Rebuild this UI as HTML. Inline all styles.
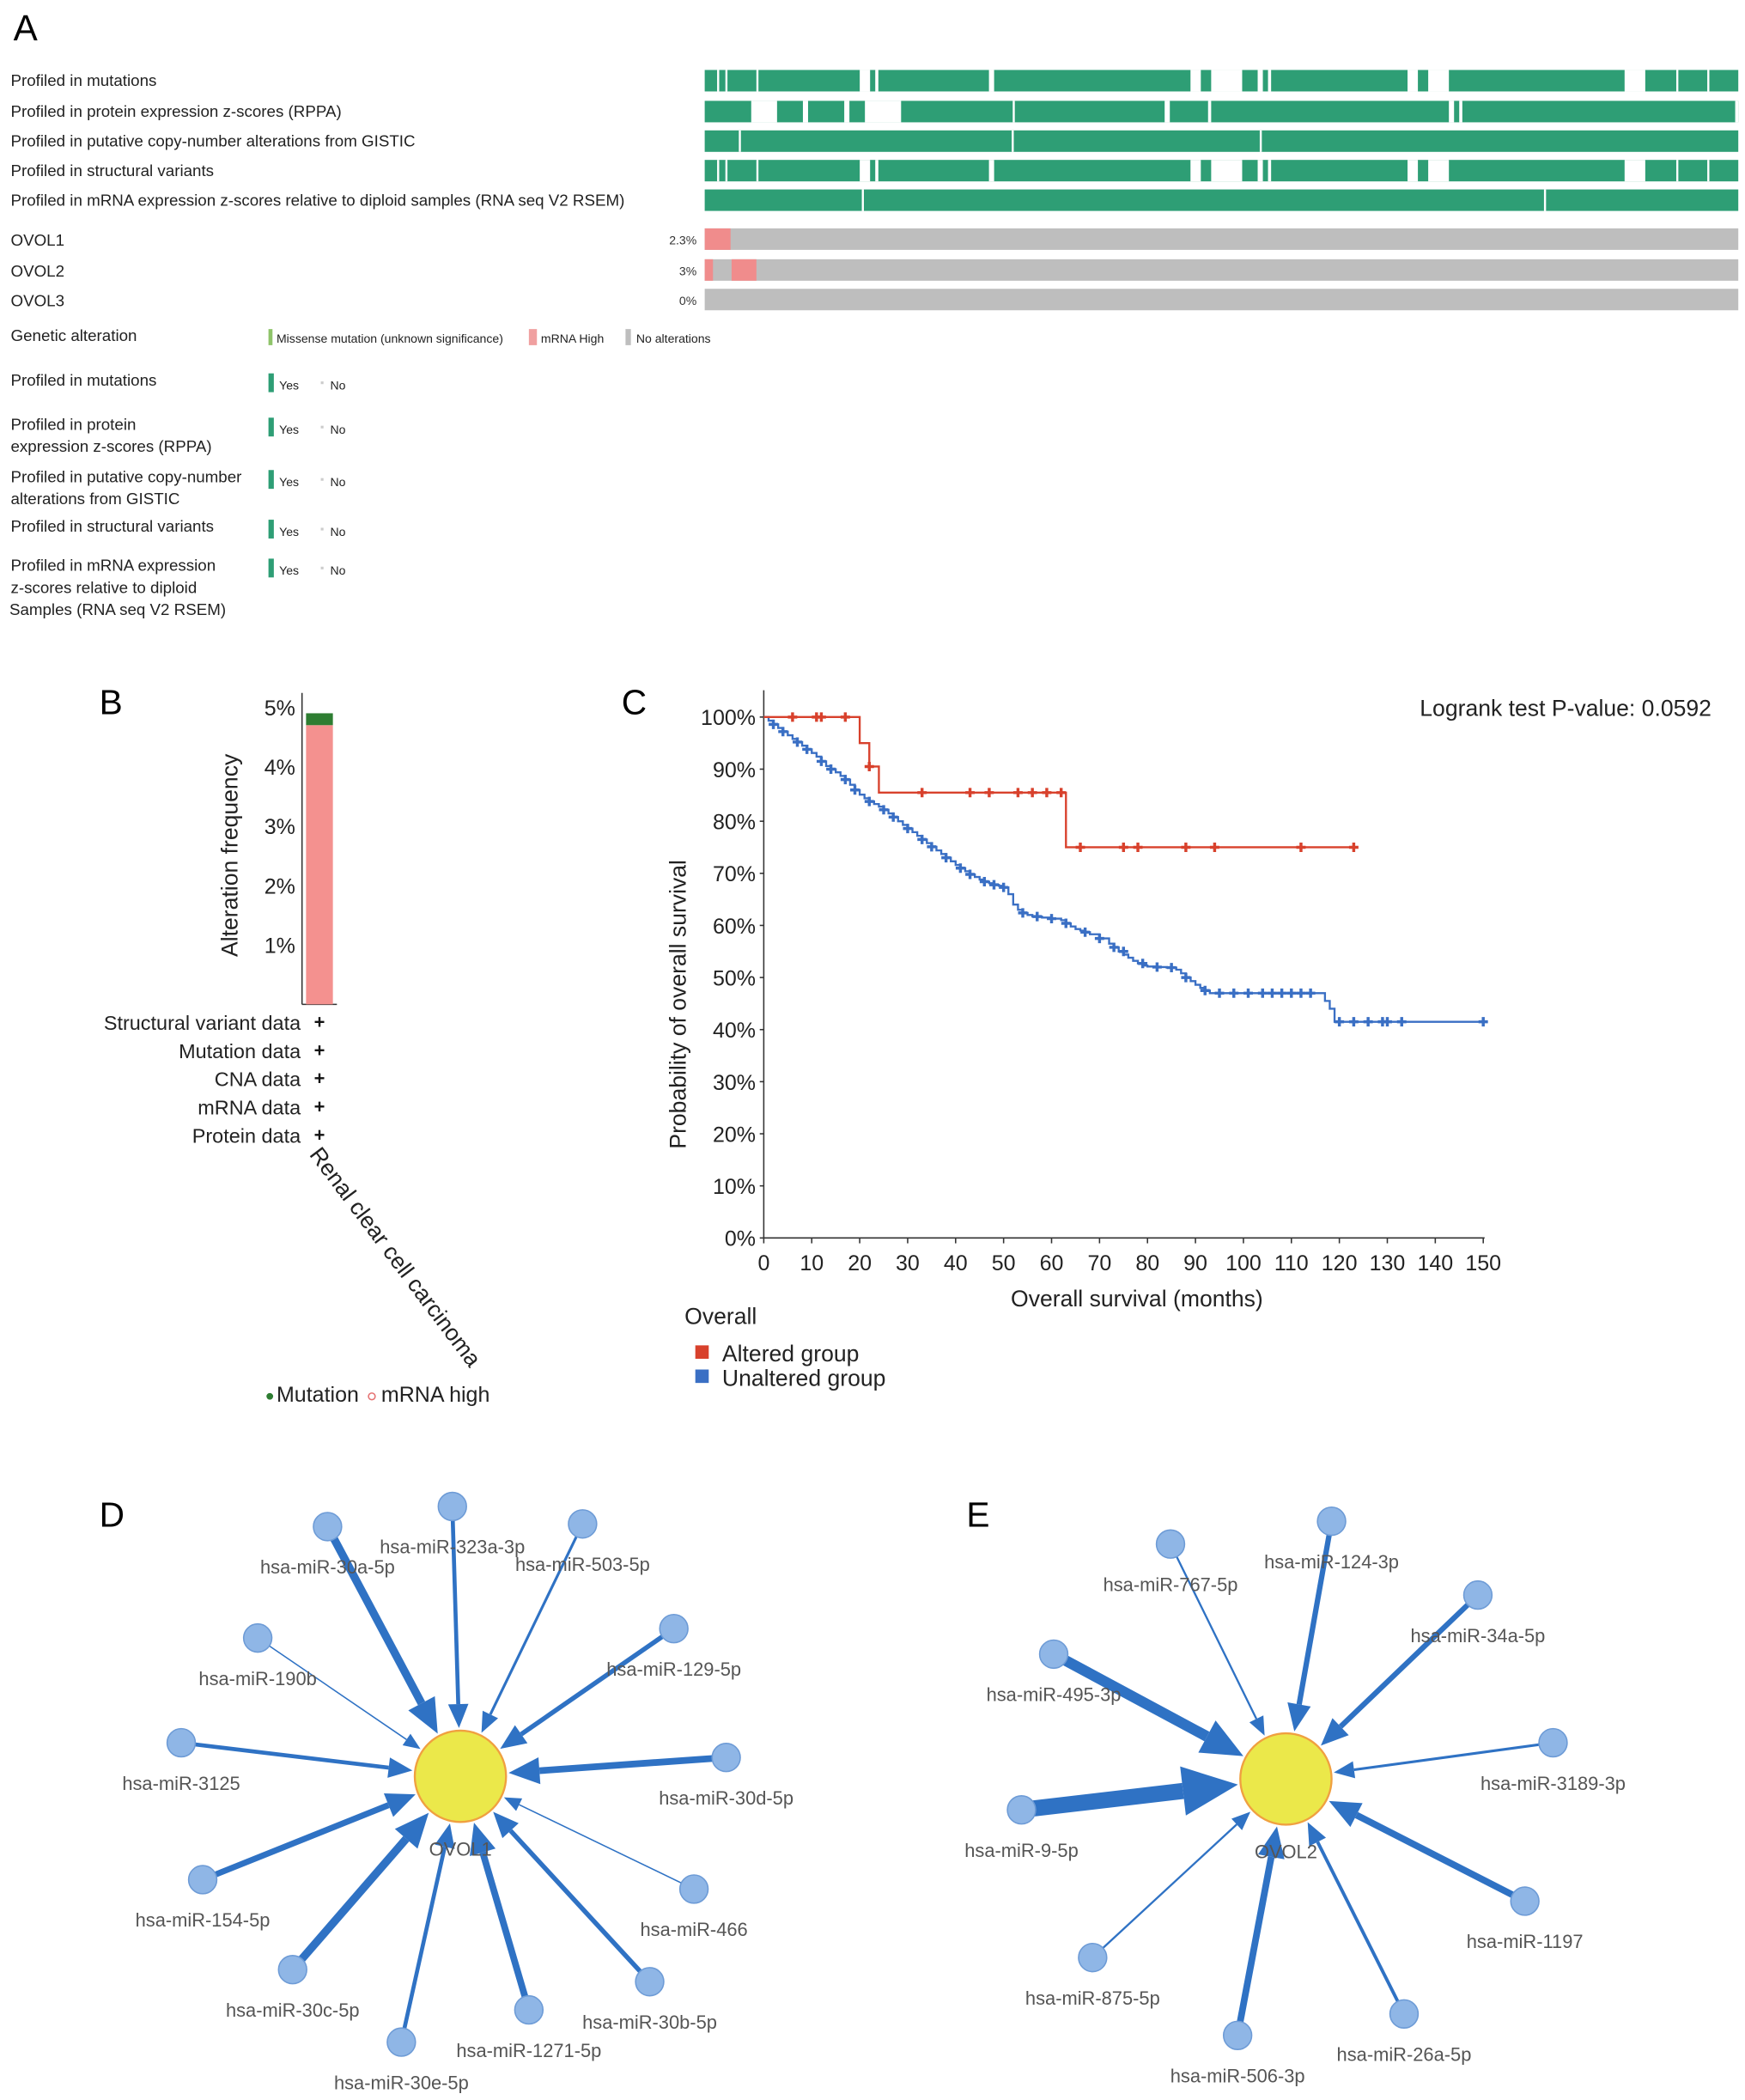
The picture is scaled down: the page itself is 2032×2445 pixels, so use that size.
<!DOCTYPE html>
<html><head><meta charset="utf-8"><style>
body{margin:0;background:#fff}
svg{display:block}
text{font-family:"Liberation Sans",sans-serif}
</style></head><body>
<svg id="fig" width="2032" height="2445" viewBox="0 0 1300 1564" xmlns="http://www.w3.org/2000/svg">
<g id="pa">
<text x="10" y="30" font-size="27">A</text>
</g>
<g id="pb">
<text x="74" y="532" font-size="26">B</text>
</g>
<g id="pc">
<text x="463" y="532" font-size="26">C</text>
</g>
<g id="pd">
<text x="74" y="1137" font-size="26">D</text>
</g>
<g id="pe">
<text x="720" y="1137" font-size="26">E</text>
</g>
</svg>
<script>
// ===== Panel A data =====
const trackLabels=["Profiled in mutations","Profiled in protein expression z-scores (RPPA)","Profiled in putative copy-number alterations from GISTIC","Profiled in structural variants","Profiled in mRNA expression z-scores relative to diploid samples (RNA seq V2 RSEM)"];
const trackGaps=[[[0.012,0.014],[0.02,0.022],[0.05,0.052],[0.15,0.16],[0.165,0.168],[0.275,0.28],[0.47,0.48],[0.49,0.52],[0.535,0.54],[0.545,0.548],[0.68,0.69],[0.7,0.72],[0.89,0.91],[0.94,0.942],[0.97,0.972]],[[0.045,0.07],[0.095,0.1],[0.135,0.14],[0.155,0.19],[0.298,0.3],[0.445,0.45],[0.487,0.49],[0.72,0.725],[0.73,0.733],[0.997,1]],[[0.033,0.035],[0.297,0.299],[0.537,0.539]],[[0.012,0.014],[0.02,0.022],[0.05,0.052],[0.15,0.16],[0.165,0.168],[0.275,0.28],[0.47,0.48],[0.49,0.52],[0.535,0.54],[0.545,0.548],[0.68,0.69],[0.7,0.72],[0.89,0.91],[0.94,0.942],[0.97,0.972]],[[0.152,0.154],[0.812,0.814]]];
const genes=["OVOL1","OVOL2","OVOL3"];
const genePct=["2.3%","3%","0%"];
const geneAlt=[[[0,0.025]],[[0,0.008],[0.026,0.05]],[]];
const profLegend=[["Profiled in mutations"],["Profiled in protein","expression z-scores (RPPA)"],["Profiled in putative copy-number","alterations from GISTIC"],["Profiled in structural variants"],["Profiled in mRNA expression","z-scores relative to diploid","Samples (RNA seq V2 RSEM)"]];
// ===== Panel B data =====
const bTicks=[1,2,3,4,5];
const bMrna=4.7;
const bMut=0.2;
const bRows=["Structural variant data","Mutation data","CNA data","mRNA data","Protein data"];
// ===== Panel C data =====
const xTicks=[0,10,20,30,40,50,60,70,80,90,100,110,120,130,140,150];
const yTicks=[0,10,20,30,40,50,60,70,80,90,100];
const altT=[0,20,22,24,63,123];
const altS=[100,95,90.5,85.5,75,75];
const altCens=[[6,100],[11,100],[12,100],[17,100],[22,90.5],[33,85.5],[43,85.5],[47,85.5],[53,85.5],[56,85.5],[59,85.5],[62,85.5],[66,75],[75,75],[78,75],[88,75],[94,75],[112,75],[123,75]];
const unT=[0,1,2,3,4,5,6,7,8,9,10,11,12,13,14,15,16,17,18,19,20,21,22,23,24,25,26,27,28,29,30,31,32,33,34,35,36,37,38,39,40,41,42,43,44,45,46,47,48,49,50,51,52,53,54,55,56,58,60,62,63,64,65,66,67,68,70,72,73,74,75,76,77,78,79,80,82,84,86,87,88,89,90,91,92,93,116,117,118,119,150];
const unS=[100,99.3,98.6,97.9,97.2,96.5,95.8,95.2,94.5,93.8,93.1,92.4,91.5,90.6,90,89.4,88.7,88,87,86,85.1,84.4,83.8,83.3,82.8,82.2,81.5,80.8,80,79.3,78.6,77.9,77.2,76.5,75.8,75.1,74.4,73.7,73,72.3,71.6,71,70.4,69.8,69.3,68.8,68.4,68.1,67.8,67.6,67.3,66,64,63,62.4,62,61.7,61.5,61.3,61,60.4,59.8,59.3,59,58.7,58.3,57.5,56.5,55.8,55,54.4,53.8,53.2,52.7,52.3,52.1,52,51.9,51.5,50.8,50,49.3,48.6,48,47.5,47,47,45.5,44,41.5,41.5];
const unCens=[[2,98.6],[4,97.2],[7,95.2],[9,93.8],[12,91.5],[14,90],[17,88],[19,86],[22,83.8],[25,82.2],[27,80.8],[30,78.6],[33,76.5],[35,75.1],[38,73],[41,71],[43,69.8],[46,68.4],[48,67.8],[50,67.3],[54,62.4],[57,61.7],[60,61.3],[63,60.4],[67,58.7],[70,57.5],[73,55.8],[75,55],[79,52.7],[82,52],[85,51.9],[88,50],[92,47.5],[95,47],[98,47],[101,47],[104,47],[106,47],[108,47],[110,47],[112,47],[114,47],[120,41.5],[123,41.5],[126,41.5],[129,41.5],[130,41.5],[133,41.5],[150,41.5]];
// ===== Panel D/E data =====
const dNames=["hsa-miR-30a-5p","hsa-miR-323a-3p","hsa-miR-503-5p","hsa-miR-190b","hsa-miR-129-5p","hsa-miR-3125","hsa-miR-30d-5p","hsa-miR-154-5p","hsa-miR-466","hsa-miR-30c-5p","hsa-miR-30b-5p","hsa-miR-1271-5p","hsa-miR-30e-5p"];
const dWeights=[6,3,2,1,3.5,3,5,4.5,1,6,3.5,5,3];
const eNames=["hsa-miR-767-5p","hsa-miR-124-3p","hsa-miR-34a-5p","hsa-miR-495-3p","hsa-miR-3189-3p","hsa-miR-9-5p","hsa-miR-1197","hsa-miR-875-5p","hsa-miR-26a-5p","hsa-miR-506-3p"];
const eWeights=[1.5,4,4,8,2,12,5,1.5,2.5,5];

const NS="http://www.w3.org/2000/svg";
function mk(tag,attrs,parent,txt){const e=document.createElementNS(NS,tag);for(const k in attrs)e.setAttribute(k,attrs[k]);if(txt!==undefined)e.textContent=txt;parent.appendChild(e);return e;}

// Panel A
const pa=document.getElementById('pa');
const TX0=525,TX1=1295,TW=TX1-TX0;
const trackY=[52,75,97,119,141];
trackLabels.forEach((l,i)=>{
  const t=mk('text',{x:8,y:trackY[i]+12,'font-size':12,fill:'#222'},pa,l);
  
  
  const r=mk('rect',{x:TX0,y:trackY[i],width:TW,height:16,fill:'#2e9e75'},pa);
  
  
  trackGaps[i].forEach(g=>{mk('rect',{x:TX0+g[0]*TW,y:trackY[i],width:Math.max(1,(g[1]-g[0])*TW),height:16,fill:'#fff'},pa);});
});
const geneY=[170,193,215];
genes.forEach((g,i)=>{
  const t=mk('text',{x:8,y:geneY[i]+13,'font-size':12,fill:'#222'},pa,g);
  
  
  mk('text',{x:519,y:geneY[i]+12,'font-size':9,fill:'#333','text-anchor':'end'},pa,genePct[i]);
  const r=mk('rect',{x:TX0,y:geneY[i],width:TW,height:16,fill:'#bebebe'},pa);
  
  
  geneAlt[i].forEach(a=>{mk('rect',{x:TX0+a[0]*TW,y:geneY[i],width:(a[1]-a[0])*TW,height:16,fill:'#f08c8c'},pa);});
});
mk('text',{x:8,y:254,'font-size':12,fill:'#222'},pa,'Genetic alteration');
mk('rect',{x:200,y:245,width:3,height:12,fill:'#8fc46a'},pa);
mk('text',{x:206,y:255,'font-size':9,fill:'#222'},pa,'Missense mutation (unknown significance)');
mk('rect',{x:394,y:245,width:6,height:12,fill:'#f0a0a0'},pa);
mk('text',{x:403,y:255,'font-size':9,fill:'#222'},pa,'mRNA High');
mk('rect',{x:466,y:245,width:4,height:12,fill:'#bebebe'},pa);
mk('text',{x:474,y:255,'font-size':9,fill:'#222'},pa,'No alterations');
const profY=[287,320,359,396,425];
profLegend.forEach((ls,i)=>{
  ls.forEach((l,j)=>mk('text',{x:i==4&&j==2?7:8,y:profY[i]+j*16.5,'font-size':12,fill:'#222'},pa,l));
  mk('rect',{x:200,y:profY[i]-9,width:4,height:14,fill:'#2e9e75'},pa);
  mk('text',{x:208,y:profY[i]+3,'font-size':9,fill:'#222'},pa,'Yes');
  mk('rect',{x:239,y:profY[i]-3,width:2,height:2,fill:'#ccc'},pa);
  mk('text',{x:246,y:profY[i]+3,'font-size':9,fill:'#222'},pa,'No');
});

// Panel B
const pb=document.getElementById('pb');
const bY=v=>748-v*44.25;
mk('line',{x1:225,y1:516,x2:225,y2:748,stroke:'#333','stroke-width':1},pb);
mk('line',{x1:225,y1:748,x2:251,y2:748,stroke:'#333','stroke-width':1},pb);
bTicks.forEach(v=>{
  mk('text',{x:220,y:bY(v)+6,'font-size':16,fill:'#222','text-anchor':'end'},pb,v+'%');
});
const bar1=mk('rect',{x:228,y:bY(bMrna),width:20,height:748-bY(bMrna),fill:'#f4918f'},pb);


const bar2=mk('rect',{x:228,y:bY(bMrna+bMut),width:20,height:bY(bMrna)-bY(bMrna+bMut),fill:'#2e7d32'},pb);


mk('text',{x:0,y:0,'font-size':17,fill:'#222','text-anchor':'middle',transform:'translate(177,637) rotate(-90)'},pb,'Alteration frequency');
bRows.forEach((r,i)=>{
  mk('text',{x:224,y:767+i*21,'font-size':15,fill:'#222','text-anchor':'end'},pb,r);
  mk('text',{x:238,y:766+i*21,'font-size':14,'font-weight':'bold',fill:'#111','text-anchor':'middle'},pb,'+');
});
mk('text',{x:0,y:0,'font-size':17,fill:'#222',transform:'translate(230,860) rotate(53)'},pb,'Renal clear cell carcinoma');
mk('circle',{cx:201,cy:1040,r:2.5,fill:'#2e7d32'},pb);
mk('text',{x:206,y:1044,'font-size':16,fill:'#222'},pb,'Mutation');
mk('circle',{cx:277,cy:1040,r:2.5,fill:'none',stroke:'#e57373'},pb);
mk('text',{x:284,y:1044,'font-size':16,fill:'#222'},pb,'mRNA high');

// Panel C
const pc=document.getElementById('pc');
const cx=m=>569+m*(536/150), cy=s=>922-s*3.88;
mk('line',{x1:569,y1:514,x2:569,y2:922,stroke:'#333'},pc);
mk('line',{x1:569,y1:922,x2:1106,y2:922,stroke:'#333'},pc);
yTicks.forEach(v=>{
  mk('line',{x1:566,y1:cy(v),x2:569,y2:cy(v),stroke:'#333'},pc);
  mk('text',{x:563,y:cy(v)+6,'font-size':16,fill:'#222','text-anchor':'end'},pc,v+'%');
});
xTicks.forEach(v=>{
  mk('line',{x1:cx(v),y1:922,x2:cx(v),y2:926,stroke:'#333'},pc);
  mk('text',{x:cx(v),y:946,'font-size':16,fill:'#222','text-anchor':'middle'},pc,v);
});
mk('text',{x:847,y:973,'font-size':17,fill:'#222','text-anchor':'middle'},pc,'Overall survival (months)');
mk('text',{x:0,y:0,'font-size':17,fill:'#222','text-anchor':'middle',transform:'translate(511,748) rotate(-90)'},pc,'Probability of overall survival');
mk('text',{x:1275,y:533,'font-size':17,fill:'#222','text-anchor':'end'},pc,'Logrank test P-value: 0.0592');
function stepPath(T,S){let d='M'+cx(T[0])+','+cy(S[0]);for(let i=1;i<T.length;i++){d+=' H'+cx(T[i])+' V'+cy(S[i]);}return d;}
function drawCurve(T,S,C,col,name){
  const p=mk('path',{d:stepPath(T,S),fill:'none',stroke:col,'stroke-width':1.5},pc);
  
  
  C.forEach(c=>{const x=cx(c[0]),y=cy(c[1]);mk('path',{d:`M${x-3.5},${y}H${x+3.5}M${x},${y-3.5}V${y+3.5}`,stroke:col,'stroke-width':2.2},pc);});
}
drawCurve(unT,unS,unCens,'#3a6fc4','unaltered-curve');
drawCurve(altT,altS,altCens,'#d8412c','altered-curve');
mk('text',{x:510,y:986,'font-size':17,fill:'#222'},pc,'Overall');
mk('rect',{x:518,y:1002,width:10,height:10,fill:'#d8412c'},pc);
mk('text',{x:538,y:1014,'font-size':17,fill:'#222'},pc,'Altered group');
mk('rect',{x:518,y:1020,width:10,height:10,fill:'#3a6fc4'},pc);
mk('text',{x:538,y:1032,'font-size':17,fill:'#222'},pc,'Unaltered group');

// Networks
const dPos=[[244,1137],[337,1122],[434,1135],[192,1220],[502,1213],[135,1298],[541,1309],[151,1400],[517,1407],[218,1467],[484,1476],[394,1497],[299,1521]];
const ePos=[[872,1150],[992,1133],[1101,1188],[785,1232],[1157,1298],[761,1348],[1136,1416],[814,1458],[1046,1500],[922,1516]];
function network(g,center,names,weights,pos,label){
  const [X,Y]=center,R=34;
  names.forEach((n,i)=>{
    const [nx,ny]=pos[i];const dx=X-nx,dy=Y-ny,L=Math.hypot(dx,dy),ux=dx/L,uy=dy/L;
    const w=weights[i];const ex=X-ux*(R+2),ey=Y-uy*(R+2);
    const ah=10+w*2.6,aw=4+w*1.2;const bx=ex-ux*ah,by=ey-uy*ah;
    const e=mk('line',{x1:nx,y1:ny,x2:bx,y2:by,stroke:'#2f72c4','stroke-width':w},g);
    
    
    mk('polygon',{points:`${ex},${ey} ${bx-uy*aw},${by+ux*aw} ${bx+uy*aw},${by-ux*aw}`,fill:'#2f72c4'},g);
  });
  names.forEach((n,i)=>{
    const [nx,ny]=pos[i];
    const c=mk('circle',{cx:nx,cy:ny,r:10.5,fill:'#8fb6e6',stroke:'#6d9bd6','stroke-width':1},g);
    
    
    mk('text',{x:nx,y:ny+35,'font-size':14,fill:'#555','text-anchor':'middle'},g,n);
  });
  const h=mk('circle',{cx:X,cy:Y,r:R,fill:'#ebe84a',stroke:'#f0a040','stroke-width':1.5},g);
  
  
  mk('text',{x:X,y:Y+59,'font-size':14,fill:'#555','text-anchor':'middle'},g,label);
}
network(document.getElementById('pd'),[343,1323],dNames,dWeights,dPos,'OVOL1');
network(document.getElementById('pe'),[958,1325],eNames,eWeights,ePos,'OVOL2');
</script>
</body></html>
